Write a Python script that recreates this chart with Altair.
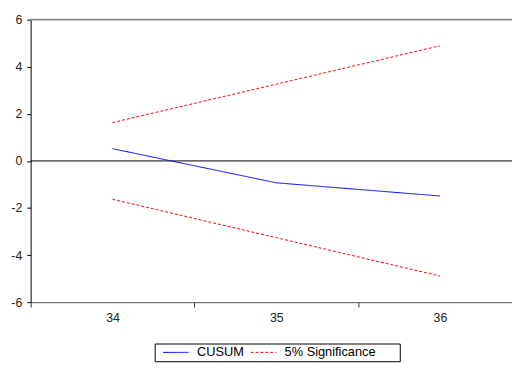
import altair as alt
import pandas as pd

periods = [34, 35, 36]
cusum = [0.52, -0.93, -1.49]
upper = [1.63, 3.26, 4.89]
lower = [-1.63, -3.26, -4.89]
series_names = ["CUSUM", "5% Significance"]
x_tick_values = [33.5, 34, 34.5, 35, 35.5, 36]
y_tick_values = [-6, -4, -2, 0, 2, 4, 6]

rows = []
for p, c, u, l in zip(periods, cusum, upper, lower):
    rows.append({"period": p, "value": c, "series": "CUSUM", "line": "cusum"})
    rows.append({"period": p, "value": u, "series": "5% Significance", "line": "upper"})
    rows.append({"period": p, "value": l, "series": "5% Significance", "line": "lower"})
df = pd.DataFrame(rows)

FONT = "Liberation Sans"
x_scale = alt.Scale(domain=[33.5, 36.44], nice=False, zero=False)
y_scale = alt.Scale(domain=[-6, 6], nice=False, zero=False)

ZW = "\u200b"
legend = alt.Legend(orient="none", legendX=126, legendY=329, direction="horizontal", title=None,
                    labelExpr="datum.label == 'CUSUM' ? datum.label : datum.label + '      " + ZW + "'")

lines = alt.Chart(df).mark_line(strokeWidth=1, clip=True).encode(
    x=alt.X("period:Q", scale=x_scale, title=None,
            axis=alt.Axis(values=x_tick_values,
                          labelExpr="datum.value % 1 === 0 ? '' + datum.value : ''",
                          tickOpacity=alt.condition("datum.value % 1 === 0", alt.value(0), alt.value(1)),
                          labelOverlap=False, labelFlush=False, grid=False,
                          domainColor="#555555", tickColor="#333333",
                          tickSize=5, labelPadding=5, labelFont=FONT, labelFontSize=12.5,
                          labelColor="#222222")),
    y=alt.Y("value:Q", scale=y_scale, title=None,
            axis=alt.Axis(values=y_tick_values, labelExpr="'' + datum.value",
                          grid=False, domainColor="black", tickColor="black", tickSize=4,
                          labelPadding=5, labelFont=FONT, labelFontSize=12.5, labelColor="#222222")),
    color=alt.Color("series:N", scale=alt.Scale(domain=series_names, range=["#0000ff", "#ff0000"]),
                    legend=legend),
    strokeDash=alt.StrokeDash("series:N", scale=alt.Scale(domain=series_names, range=[[1, 0], [3, 2]]),
                              legend=legend),
    detail="line:N",
)

zero_rule = alt.Chart(pd.DataFrame({"y": [0]})).mark_rule(color="black", strokeWidth=1).encode(
    y=alt.Y("y:Q", scale=y_scale)
)
top_rule = alt.Chart(pd.DataFrame({"y": [6]})).mark_rule(color="#888888", strokeWidth=1.6).encode(
    y=alt.Y("y:Q", scale=y_scale)
)

chart = alt.layer(top_rule, zero_rule, lines).properties(
    width=489, height=287,
    autosize=alt.AutoSizeParams(type="none"),
    padding={"left": 23, "top": 9, "right": 0, "bottom": 62},
    background="white",
).configure_view(stroke=None).configure_legend(
    labelFont=FONT, labelFontSize=13, labelColor="black",
    symbolType="M-1,0H3", symbolSize=169, symbolStrokeWidth=1,
    strokeColor="black", fillColor="white", padding=2, symbolOffset=6,
    labelOffset=21, columnPadding=0, cornerRadius=0,
)

chart.save("out.html", embed_options={"renderer": "svg", "actions": False})
